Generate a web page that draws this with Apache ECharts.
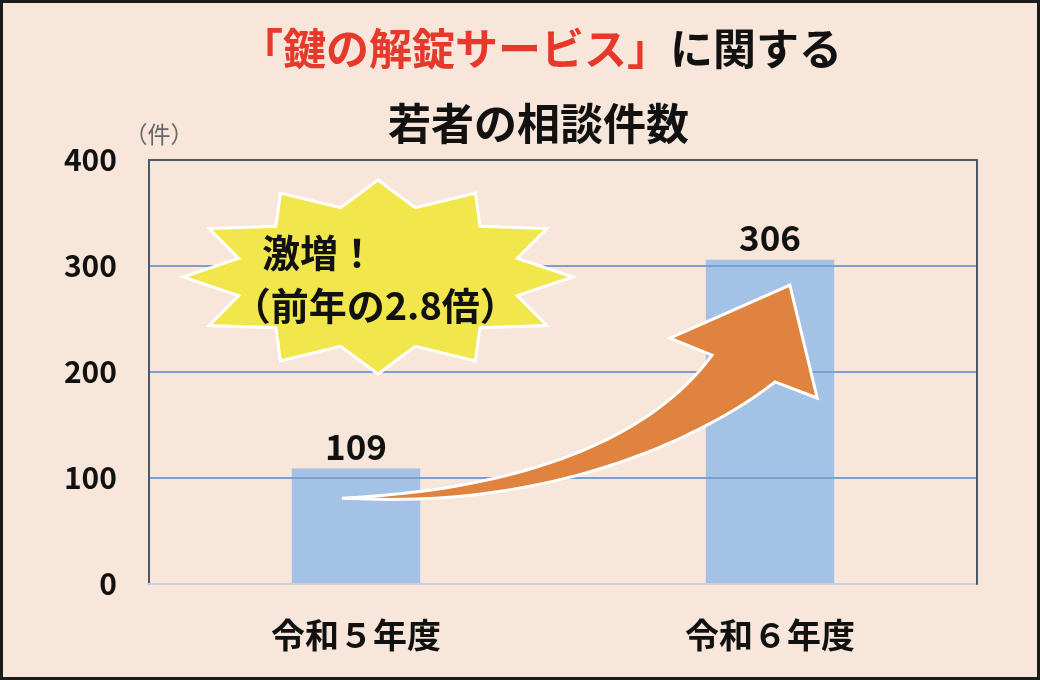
<!DOCTYPE html>
<html><head><meta charset="utf-8">
<script src="https://cdn.jsdelivr.net/npm/echarts@6/dist/echarts.min.js"></script>
<style>
html,body{margin:0;padding:0;background:#F7E6D9;}
#c{width:1040px;height:680px;}
#frame{position:absolute;left:0;top:0;width:1040px;height:680px;box-sizing:border-box;border:3px solid #1b1b1b;pointer-events:none;}
</style></head>
<body>
<div id="c"></div><div id="frame"></div>
<script>
const categories = ['令和５年度', '令和６年度'];
const values = [109, 306];
const yTicks = [0, 100, 200, 300, 400];
const titleRed = '「鍵の解錠サービス」';
const titleBlack = 'に関する';
const title2 = '若者の相談件数';
const unitLabel = '（件）';
const burstLine1 = '激増！';
const burstLine2 = '（前年の2.8倍）';

const FONT = '"Noto Sans CJK JP", "Noto Sans", sans-serif';
const chart = echarts.init(document.getElementById('c'));

const option = {
  backgroundColor: '#F7E6D9',
  title: [
    { text: '{r|' + titleRed + '}{k|' + titleBlack + '}', left: 240, top: 27, padding: 0,
      textStyle: { rich: {
        r: { color: '#E6392B', fontSize: 43, fontWeight: 'bold', fontFamily: FONT },
        k: { color: '#111', fontSize: 43, fontWeight: 'bold', fontFamily: FONT } } } },
    { text: title2, left: 388, top: 102, padding: 0,
      textStyle: { color: '#111', fontSize: 43, fontWeight: 'bold', fontFamily: FONT } }
  ],
  grid: { left: 149, right: 63, top: 160, bottom: 96, containLabel: false },
  xAxis: [
    { type: 'category', data: categories, position: 'bottom', z: 8,
      axisLine: { onZero: false, lineStyle: { color: '#CDD0D8', width: 2 } },
      axisTick: { show: false },
      axisLabel: { margin: 34, fontSize: 34, fontWeight: 'bold', color: '#111', fontFamily: FONT } },
    { type: 'category', data: categories, position: 'top', z: 9,
      axisLine: { onZero: false, lineStyle: { color: '#4E586B', width: 2 } },
      axisTick: { show: false }, axisLabel: { show: false } }
  ],
  yAxis: [
    { type: 'value', min: yTicks[0], max: yTicks[yTicks.length - 1], interval: 100, position: 'left', z: 6,
      name: unitLabel, nameLocation: 'end', nameGap: 14,
      nameTextStyle: { color: '#666', fontSize: 23, fontFamily: FONT, padding: [0, 0, 0, 20] },
      axisLine: { show: true, onZero: false, lineStyle: { color: '#4E586B', width: 2 } },
      axisTick: { show: false },
      axisLabel: { margin: 32, fontSize: 30, fontWeight: 'bold', color: '#111', fontFamily: FONT },
      splitLine: { lineStyle: { color: '#7BA0CF', width: 2 } } },
    { type: 'value', min: yTicks[0], max: yTicks[yTicks.length - 1], interval: 100, position: 'right', z: 9,
      axisLine: { show: true, onZero: false, lineStyle: { color: '#4E586B', width: 2 } },
      axisTick: { show: false }, axisLabel: { show: false }, splitLine: { show: false } }
  ],
  series: [{
    type: 'bar', data: values, barWidth: '31%',
    itemStyle: { color: '#A4C2E5' },
    label: { show: true, position: 'top', distance: 4, fontSize: 35, fontWeight: 'bold', color: '#111', fontFamily: FONT }
  }]
};
chart.setOption(option);

// Annotation anchors derived from the chart's own scales
const c0 = chart.convertToPixel({ xAxisIndex: 0 }, categories[0]);
const c1 = chart.convertToPixel({ xAxisIndex: 0 }, categories[1]);
const span = c1 - c0;
function P(t, v) { return [c0 + t * span, chart.convertToPixel({ yAxisIndex: 0 }, v)]; }
const unitY = chart.convertToPixel({ yAxisIndex: 0 }, 0) - chart.convertToPixel({ yAxisIndex: 0 }, 1);

// starburst
const ctr = P(0.053, 289.6);
const rx = 0.471 * span, ry = 91.5 * unitY;
const pts = [];
for (let i = 0; i < 24; i++) {
  const a = -Math.PI / 2 + i * Math.PI / 12;
  const r = (i % 2 === 0) ? 1 : 0.74;
  pts.push([ctr[0] + Math.cos(a) * rx * r, ctr[1] + Math.sin(a) * ry * r]);
}

// curved arrow (bezier edges sampled into a polygon)
const tail = P(-0.034, 81), u1 = P(0.40, 89), u2 = P(0.71, 136), hb1 = P(0.86, 216),
      hl = P(0.758, 232), apex = P(1.048, 282), hr = P(1.114, 175.5), hb2 = P(1.012, 190.6),
      l1 = P(0.84, 138), l2 = P(0.49, 76), tail2 = P(0.05, 80);
function cubic(p0, p1, p2, p3, n) {
  const out = [];
  for (let i = 0; i <= n; i++) {
    const t = i / n, s = 1 - t;
    out.push([
      s*s*s*p0[0] + 3*s*s*t*p1[0] + 3*s*t*t*p2[0] + t*t*t*p3[0],
      s*s*s*p0[1] + 3*s*s*t*p1[1] + 3*s*t*t*p2[1] + t*t*t*p3[1]
    ]);
  }
  return out;
}
const arrowPts = [].concat(
  cubic(tail, u1, u2, hb1, 40),
  [hl, apex, hr],
  cubic(hb2, l1, l2, tail2, 40)
);

const t1 = P(-0.227, 313), t2 = P(-0.298, 263);
chart.setOption({
  graphic: [
    { type: 'polygon', z: 10, shape: { points: pts },
      style: { fill: '#F1E64C', stroke: '#FFFFFF', lineWidth: 3 } },
    { type: 'text', z: 11, x: t1[0], y: t1[1],
      style: { text: burstLine1, fill: '#111', font: 'bold 38px ' + FONT, textAlign: 'left', textVerticalAlign: 'middle' } },
    { type: 'text', z: 11, x: t2[0], y: t2[1],
      style: { text: burstLine2, fill: '#111', font: 'bold 38px ' + FONT, textAlign: 'left', textVerticalAlign: 'middle' } },
    { type: 'polygon', z: 10, shape: { points: arrowPts },
      style: { fill: '#E0833F', stroke: '#FFFFFF', lineWidth: 3, lineJoin: 'miter' } }
  ]
});
</script>
</body></html>
